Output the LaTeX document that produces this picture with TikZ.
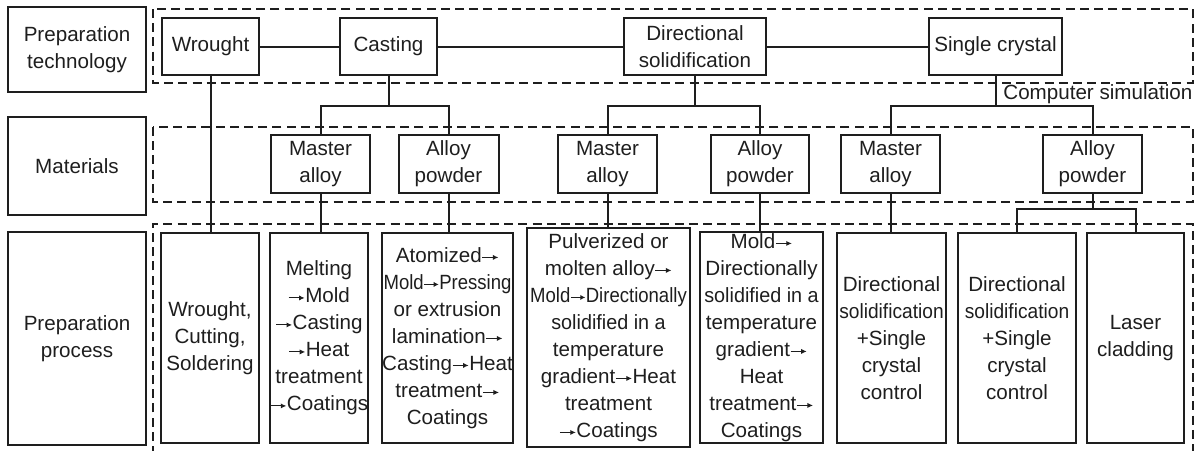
\documentclass[tikz,border=0pt]{standalone}
\usepackage{fontspec}
\setmainfont{Liberation Sans}
\usetikzlibrary{arrows.meta}
\definecolor{ink}{HTML}{1E1E1E}
\newcommand\ra{\tikz[baseline=-0.45ex]\draw[ink,line width=0.55pt,-{Latex[length=2.8pt,width=2.6pt]}] (0pt,0pt)--(0.78em,0pt);}
\newcommand\cz[2]{\scalebox{#1}[1]{#2}}
\tikzset{
  box/.style={draw=ink,line width=1pt,rectangle,inner sep=0pt,align=center,text=ink,
    font=\fontsize{10.3pt}{13.5pt}\selectfont},
  conn/.style={draw=ink,line width=1pt},
  band/.style={draw=ink,line width=0.9pt,dash pattern=on 4.5pt off 2.6pt},
  lbl/.style={text=ink,inner sep=0pt,font=\fontsize{10.3pt}{13.5pt}\selectfont}
}
\begin{document}
\begin{tikzpicture}[x=0.5pt,y=-0.5pt]
\useasboundingbox (0,0) rectangle (1197,450);
% dashed bands
\draw[band] (153,9) rectangle (1193,83);
\draw[band] (153,127) rectangle (1193,202);
\draw[band] (153,455) -- (153,224) -- (1193,224) -- (1193,455);
% left labels
\node[box,minimum width=69pt,minimum height=42.5pt] (LT) at (77,49.5) {Preparation\\technology};
\node[box,minimum width=69pt,minimum height=49pt] (LM) at (77,166) {Materials};
\node[box,minimum width=69pt,minimum height=106.5pt] (LP) at (77,338.5) {Preparation\\process};
% row 1
\node[box,minimum width=48.5pt,minimum height=28.5pt] (WR) at (210.5,46.5) {Wrought};
\node[box,minimum width=48.5pt,minimum height=28.5pt] (CA) at (388.5,46.5) {Casting};
\node[box,minimum width=71pt,minimum height=28.5pt] (DS) at (695,46.5) {Directional\\solidification};
\node[box,minimum width=66.5pt,minimum height=28.5pt] (SC) at (995.5,46.5) {Single crystal};
% row 2
\node[box,minimum width=49.5pt,minimum height=29pt] (M1) at (320.5,164) {Master\\alloy};
\node[box,minimum width=50pt,minimum height=29pt] (A1) at (448.5,164) {Alloy\\powder};
\node[box,minimum width=49.5pt,minimum height=29pt] (M2) at (607.5,164) {Master\\alloy};
\node[box,minimum width=49pt,minimum height=29pt] (A2) at (760,164) {Alloy\\powder};
\node[box,minimum width=49.5pt,minimum height=29pt] (M3) at (890.5,164) {Master\\alloy};
\node[box,minimum width=49.5pt,minimum height=29pt] (A3) at (1092.5,164) {Alloy\\powder};
% row 3
\node[box,minimum width=49pt,minimum height=105pt] (P1) at (210,338) {Wrought,\\Cutting,\\Soldering};
\node[box,minimum width=49pt,minimum height=105pt] (P2) at (319,338) {Melting\\\ra Mold\\\ra Casting\\\ra Heat\\treatment\\\ra Coatings};
\node[box,minimum width=65.5pt,minimum height=105pt] (P3) at (447.5,338) {Atomized\ra\\\cz{0.9}{Mold\ra Pressing}\\or extrusion\\lamination\ra\\Casting\ra Heat\\treatment\ra\\Coatings};
\node[box,minimum width=81.5pt,minimum height=109.5pt] (P4) at (608.5,337.5) {Pulverized or\\molten alloy\ra\\\cz{0.9}{Mold\ra Directionally}\\\cz{0.96}{solidified in a}\\temperature\\gradient\ra Heat\\treatment\\\ra Coatings};
\node[box,minimum width=61.5pt,minimum height=105.5pt] (P5) at (761.5,337.5) {Mold\ra\\Directionally\\\cz{0.96}{solidified in a}\\temperature\\gradient\ra\\Heat\\treatment\ra\\Coatings};
\node[box,minimum width=54.5pt,minimum height=105pt] (P6) at (891.5,338) {Directional\\\cz{0.93}{solidification}\\+Single\\crystal\\control};
\node[box,minimum width=59pt,minimum height=105pt] (P7) at (1017,338) {Directional\\\cz{0.93}{solidification}\\+Single\\crystal\\control};
\node[box,minimum width=48.5pt,minimum height=105pt] (P8) at (1135.5,338) {Laser\\cladding};
% junction coordinates
\coordinate (J1) at (388.5,106);
\coordinate (J2) at (695,106);
\coordinate (J3) at (995.5,106);
\coordinate (J4) at (1092.5,209);
% connectors
\draw[conn] (WR.east) -- (CA.west);
\draw[conn] (CA.east) -- (DS.west);
\draw[conn] (DS.east) -- (SC.west);
\draw[conn] (WR.south) -- (WR.south |- P1.north);
\draw[conn] (CA.south) -- (J1);
\draw[conn] (M1.north) |- (J1) -| (A1.north);
\draw[conn] (DS.south) -- (J2);
\draw[conn] (M2.north) |- (J2) -| (A2.north);
\draw[conn] (SC.south) -- (J3);
\draw[conn] (M3.north) |- (J3) -| (A3.north);
\draw[conn] (M1.south) -- (M1.south |- P2.north);
\draw[conn] (A1.south) -- (A1.south |- P3.north);
\draw[conn] (M2.south) -- (M2.south |- P4.north);
\draw[conn] (A2.south) -- (A2.south |- P5.north);
\draw[conn] (M3.south) -- (M3.south |- P6.north);
\draw[conn] (A3.south) -- (J4);
\draw[conn] (P7.north) |- (J4) -| (P8.north);
\node[lbl,anchor=west] (CS) at (1003,94) {Computer simulation};
\end{tikzpicture}
\end{document}
